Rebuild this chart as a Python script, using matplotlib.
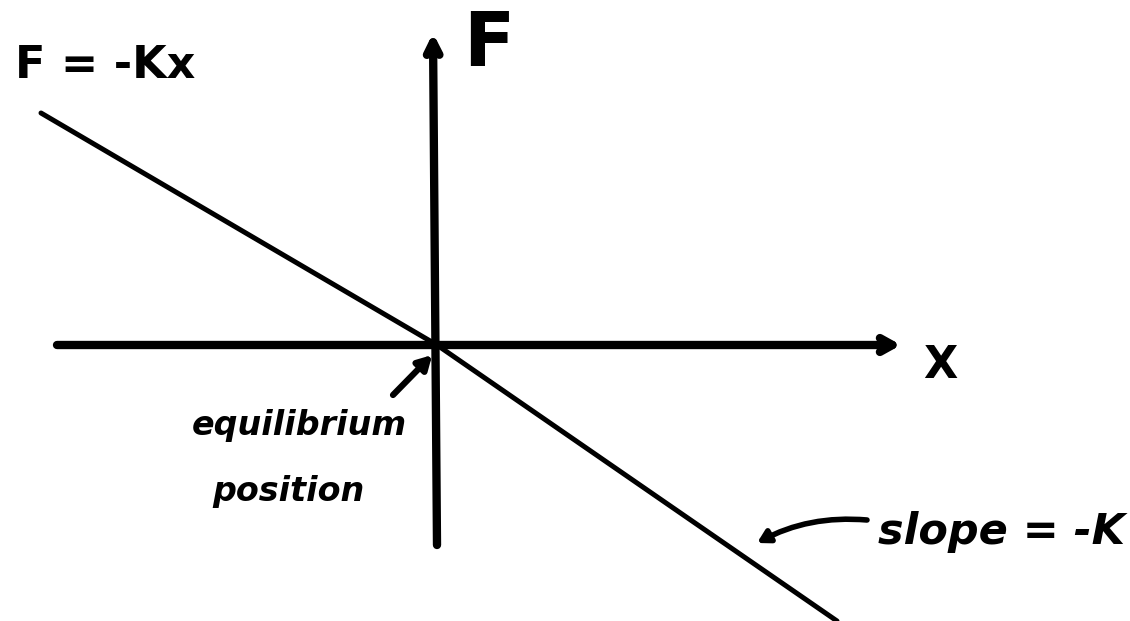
import matplotlib
matplotlib.use("Agg")
import matplotlib.pyplot as plt

# F = -k x, sketch (x, F in arbitrary units, origin at the axes crossing)
line_x = [-0.99, 0.0, 1.0]
line_F = [0.58, 0.0, -0.69]

# axis extents
x_axis = [-0.95, 1.16]
F_axis = [-0.50, 0.78]

# annotations
eq_point = (0.0, 0.0)
slope_point = (0.80, -0.495)

fig = plt.figure(figsize=(11.3, 6.21), dpi=100)
ax = fig.add_axes([0, 0, 1, 1])
ax.set_xlim(-1.0925, 1.7325)
ax.set_ylim(-0.69, 0.8625)
ax.axis("off")

# the F = -kx line
ax.plot(line_x, line_F, color="black", lw=3.6, solid_capstyle="round")

# x axis and F axis as arrows
ax.annotate("", xy=(x_axis[1], 0), xytext=(x_axis[0], 0),
            arrowprops=dict(arrowstyle="->,head_length=0.9,head_width=0.5",
                            lw=6, color="black", capstyle="round", joinstyle="round",
                            shrinkA=0, shrinkB=0))
ax.annotate("", xy=(-0.01, F_axis[1]), xytext=(0, F_axis[0]),
            arrowprops=dict(arrowstyle="->,head_length=0.9,head_width=0.45",
                            lw=6, color="black", capstyle="round", joinstyle="round",
                            shrinkA=0, shrinkB=0))

# labels
ax.text(-1.055, 0.70, "F = -Kx", fontsize=32, fontweight="bold", ha="left", va="center")
ax.text(0.065, 0.75, "F", fontsize=54, fontweight="bold", ha="left", va="center")
ax.text(1.2575, -0.05, "X", fontsize=32, fontweight="bold", ha="center", va="center")

# equilibrium arrow
ax.annotate("", xy=(eq_point[0] - 0.012, eq_point[1] - 0.025), xytext=(-0.11, -0.125),
            arrowprops=dict(arrowstyle="-|>,head_length=0.8,head_width=0.45",
                            lw=4.5, color="black", shrinkA=0, shrinkB=0))
ax.text(-0.345, -0.20, "equilibrium", fontsize=24, fontweight="bold", style="italic",
        ha="center", va="center")
ax.text(-0.3725, -0.365, "position", fontsize=24, fontweight="bold", style="italic",
        ha="center", va="center")

# slope label with wavy pointer
ax.annotate("", xy=slope_point, xytext=(1.075, -0.4375),
            arrowprops=dict(arrowstyle="-|>,head_length=0.7,head_width=0.4",
                            lw=4, color="black", shrinkA=0, shrinkB=0,
                            connectionstyle="arc3,rad=0.15"))
ax.text(1.1025, -0.4675, "slope = -K", fontsize=31, fontweight="bold", style="italic",
        ha="left", va="center")

fig.savefig("out.png", dpi=100, facecolor="white")
